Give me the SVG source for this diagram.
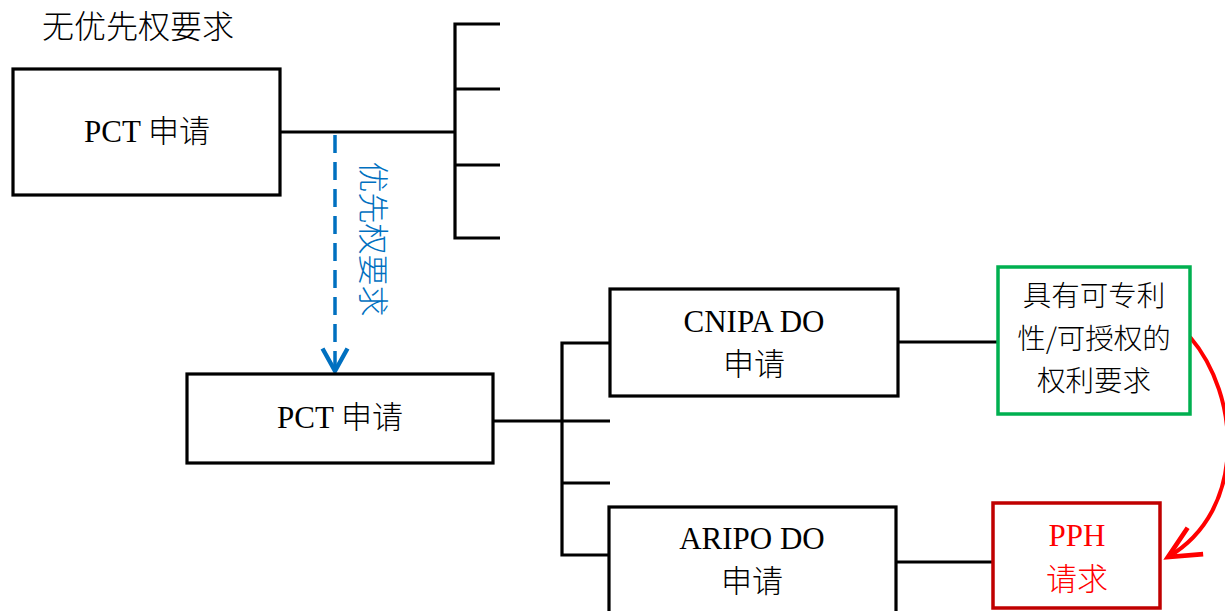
<svg xmlns="http://www.w3.org/2000/svg" width="1225" height="611" viewBox="0 0 1225 611">
<style>
text{font-family:"Liberation Serif","Noto Sans CJK SC",serif;fill:#000}
.box{fill:#fff;stroke:#000;stroke-width:3.2}
.ln{fill:none;stroke:#000;stroke-width:3.2}
.t{font-size:31px;text-anchor:middle}
.cjk{font-family:"Noto Sans CJK SC","Liberation Sans",sans-serif;font-weight:300}
.red{fill:#FF0000}
</style>
<defs>
<marker id="blueHead" markerUnits="userSpaceOnUse" markerWidth="30" markerHeight="30" viewBox="-20 -12 24 24" refX="0" refY="0" orient="auto" overflow="visible">
<path d="M-18,-10 L0,0 L-18,10" fill="none" stroke="#0070C0" stroke-width="3.5"/>
</marker>
<marker id="redHead" markerUnits="userSpaceOnUse" markerWidth="40" markerHeight="40" viewBox="-30 -15 34 30" refX="0" refY="0" orient="auto" overflow="visible">
<path d="M-27,-13 L0,0 L-27,13" fill="none" stroke="#FF0000" stroke-width="4"/>
</marker>
</defs>

<text class="cjk" x="42" y="38" font-size="32">无优先权要求</text>

<g id="connectors">
<path class="ln" d="M280,132 H455"/>
<path class="ln" d="M500,24 H455 V238 H500 M455,89 H500 M455,165 H500"/>
<path d="M335,135 V371" fill="none" stroke="#0070C0" stroke-width="3.5" stroke-dasharray="18 9" marker-end="url(#blueHead)"/>
<path class="ln" d="M493,421 H610"/>
<path class="ln" d="M610,343 H562 V555 H609 M562,483 H610"/>
<path class="ln" d="M898,342 H998"/>
<path class="ln" d="M896,562 H993"/>
<path d="M1190,337 C1240,395 1248,510 1168,557" fill="none" stroke="#FF0000" stroke-width="4" marker-end="url(#redHead)"/>
</g>

<text class="cjk" transform="translate(362,239) rotate(90)" font-size="31" text-anchor="middle" style="fill:#0070C0">优先权要求</text>

<g id="pct1">
<rect class="box" x="13" y="69" width="267" height="126"/>
<text class="t" x="147" y="142">PCT <tspan class="cjk">申请</tspan></text>
</g>

<g id="pct2">
<rect class="box" x="187" y="374" width="306" height="89"/>
<text class="t" x="340" y="428">PCT <tspan class="cjk">申请</tspan></text>
</g>

<g id="cnipa">
<rect class="box" x="610" y="289" width="288" height="107"/>
<text class="t" x="754" y="332">CNIPA DO</text>
<text class="t cjk" x="754" y="375">申请</text>
</g>

<g id="aripo">
<rect class="box" x="609" y="507" width="287" height="120"/>
<text class="t" x="752" y="549">ARIPO DO</text>
<text class="t cjk" x="752" y="592">申请</text>
</g>

<g id="claims">
<rect x="998" y="267" width="192" height="147" fill="#fff" stroke="#00B050" stroke-width="3.5"/>
<text class="t cjk" x="1094" y="306" style="font-size:28.5px">具有可专利</text>
<text class="t cjk" x="1094" y="349" style="font-size:28.5px">性/可授权的</text>
<text class="t cjk" x="1094" y="391" style="font-size:28.5px">权利要求</text>
</g>

<g id="pph">
<rect x="993" y="503" width="167" height="105" fill="#fff" stroke="#C00000" stroke-width="3.5"/>
<text class="t red" x="1077" y="546">PPH</text>
<text class="t cjk red" x="1077" y="590">请求</text>
</g>
</svg>
